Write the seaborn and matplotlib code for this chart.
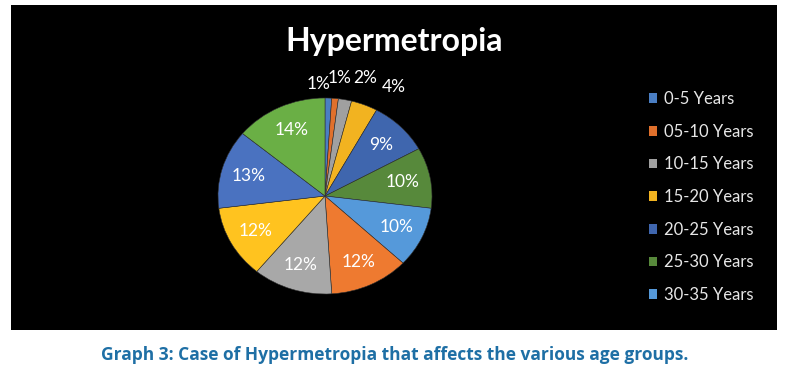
import matplotlib
matplotlib.use("Agg")
import matplotlib.pyplot as plt
import seaborn as sns
import numpy as np

categories = ["0-5 Years", "05-10 Years", "10-15 Years", "15-20 Years",
              "20-25 Years", "25-30 Years", "30-35 Years", "35-40 Years",
              "40-45 Years", "45-50 Years", "50-55 Years", "55-60 Years"]
values = [1, 1, 2, 4, 9, 10, 10, 12, 12, 12, 13, 14]
legend_count = 7
title = "Hypermetropia"
caption = "Graph 3: Case of Hypermetropia that affects the various age groups."

sns.set_theme(style="white")
plt.rcParams["font.family"] = ["Lato", "DejaVu Sans"]

palette = sns.color_palette(["#4A7EC3", "#E0702C", "#A0A0A0", "#F2B320",
                             "#3F66AE", "#57893B", "#5599DA", "#EE7A30",
                             "#A8A8A8", "#FFC31F", "#4A72C0", "#6AAF45"])

W, H = 795, 374
fig = plt.figure(figsize=(W / 100, H / 100), dpi=100)
fig.patch.set_facecolor("white")

# black panel
bg = fig.add_axes([11 / W, 1 - 330 / H, 766 / W, 325 / H])
bg.set_facecolor("black")
bg.set_xticks([]); bg.set_yticks([])
for s in bg.spines.values():
    s.set_visible(False)

# pie axes (slightly wide ellipse as in reference)
cx, cy, rx, ry = 325, 196, 107, 98
pax = fig.add_axes([(cx - rx) / W, 1 - (cy + ry) / H, 2 * rx / W, 2 * ry / H])
pax.set_facecolor("none")
wedges, texts, autotexts = pax.pie(
    values, colors=palette, startangle=90, counterclock=False,
    autopct=lambda p: f"{p:.0f}%", pctdistance=0.74,
    wedgeprops=dict(linewidth=0.4, edgecolor="#303030"),
    textprops=dict(color="white", fontsize=12.5))
pax.set_aspect("auto")
pax.set_xlim(-1, 1); pax.set_ylim(-1, 1)
pax.axis("off")

# small slices: labels outside (best-fit style placement)
outer_r = [1.144, 1.21, 1.226, 1.196]
outer_dx = [-0.10, 0.026, 0.145, 0.205]
k = 0
for w, t, v in zip(wedges, autotexts, values):
    if v < 5:
        ang = np.deg2rad((w.theta1 + w.theta2) / 2)
        t.set_position((outer_r[k] * np.cos(ang) + outer_dx[k],
                        outer_r[k] * np.sin(ang)))
        t.set_clip_on(False)
        k += 1

fig.text(394 / W, 1 - 41 / H, title, ha="center", va="center",
         color="white", fontsize=23, fontweight="bold")

leg = fig.legend(wedges[:legend_count], categories[:legend_count],
                 loc="upper left", bbox_to_anchor=(649 / W, 1 - 91 / H),
                 frameon=False, fontsize=12, labelcolor="#E6E6E6",
                 handlelength=0.5, handleheight=0.5, handletextpad=0.42,
                 labelspacing=1.0, borderpad=0, borderaxespad=0)
for h in leg.legend_handles:
    h.set_edgecolor("none")

fig.text(395 / W, 1 - 355 / H, caption, ha="center", va="center",
         color="#1E6FA5", fontsize=12.5, fontweight="bold",
         family=["Open Sans", "DejaVu Sans"])

fig.savefig("out.png", dpi=100, facecolor="white")
